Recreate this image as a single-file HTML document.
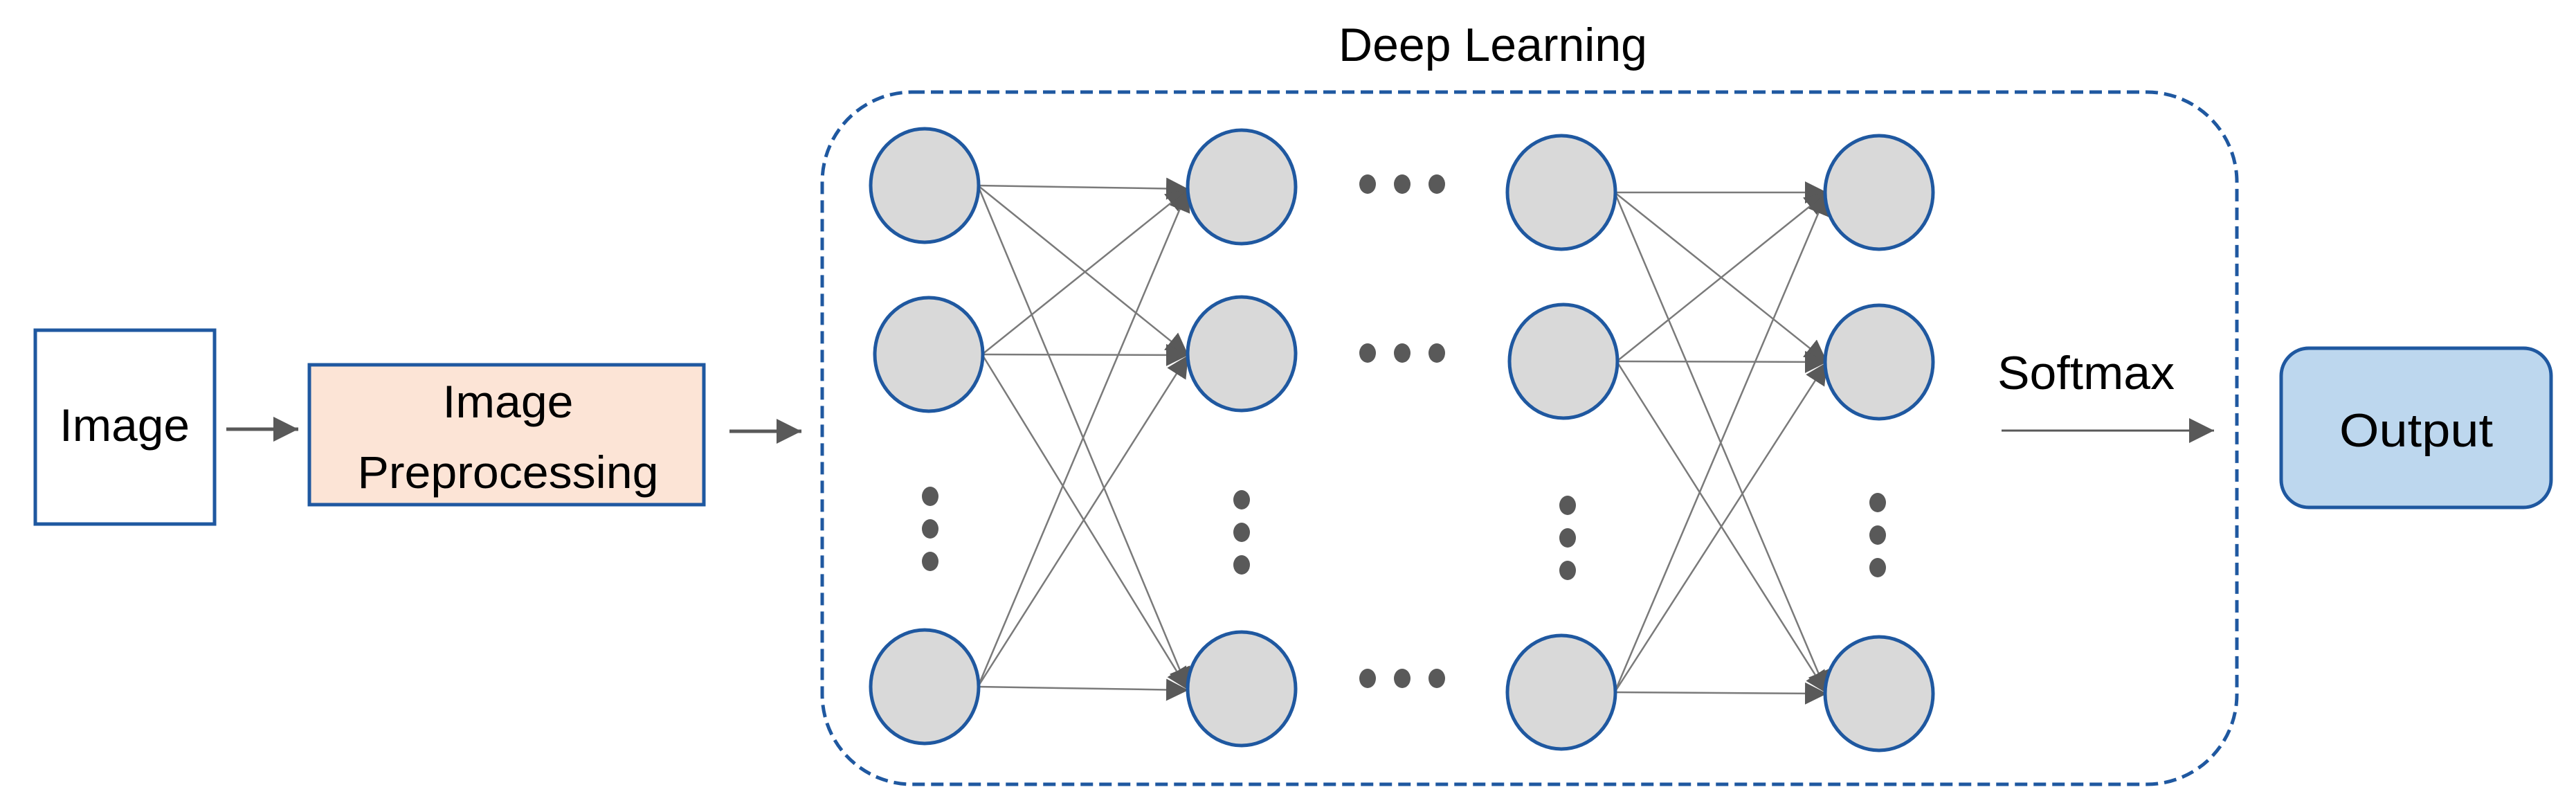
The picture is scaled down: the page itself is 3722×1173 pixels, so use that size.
<!DOCTYPE html>
<html><head><meta charset="utf-8"><style>
html,body{margin:0;padding:0;background:#fff;}
svg{display:block;}
text{font-family:"Liberation Sans",sans-serif;fill:#000;}
</style></head><body>
<svg width="3722" height="1173" viewBox="0 0 3722 1173" xmlns="http://www.w3.org/2000/svg">
<defs>
<marker id="ah" viewBox="0 0 10 10" refX="10" refY="5" markerWidth="32" markerHeight="32" markerUnits="userSpaceOnUse" orient="auto">
<path d="M0,0 L10,5 L0,10 z" fill="#595959"/></marker>
<marker id="ab" viewBox="0 0 10 10" refX="10" refY="5" markerWidth="36" markerHeight="36" markerUnits="userSpaceOnUse" orient="auto">
<path d="M0,0 L10,5 L0,10 z" fill="#595959"/></marker>
</defs>
<rect width="3722" height="1173" fill="#fff"/>
<rect x="51" y="477" width="259" height="280" fill="#fff" stroke="#1f58a0" stroke-width="5"/>
<text x="180" y="637" font-size="66" text-anchor="middle" textLength="188" lengthAdjust="spacingAndGlyphs">Image</text>
<line x1="327" y1="620" x2="431" y2="620" stroke="#595959" stroke-width="5" marker-end="url(#ab)"/>
<rect x="447" y="527" width="570" height="202" fill="#fce4d6" stroke="#1f58a0" stroke-width="5"/>
<text x="734" y="603" font-size="66" text-anchor="middle" textLength="189" lengthAdjust="spacingAndGlyphs">Image</text>
<text x="734" y="705" font-size="66" text-anchor="middle" textLength="435" lengthAdjust="spacingAndGlyphs">Preprocessing</text>
<line x1="1054" y1="623" x2="1158" y2="623" stroke="#595959" stroke-width="5" marker-end="url(#ab)"/>
<rect x="1188" y="133" width="2044" height="1000" rx="130" ry="130" fill="none" stroke="#1f58a0" stroke-width="5" stroke-dasharray="18,9"/>
<text x="2157" y="88" font-size="68" text-anchor="middle" textLength="446" lengthAdjust="spacingAndGlyphs">Deep Learning</text>
<g stroke="#7a7a7a" stroke-width="2.5" fill="none">
<line x1="1413" y1="268" x2="1717" y2="273" marker-end="url(#ah)"/>
<line x1="1413" y1="268" x2="1717" y2="513" marker-end="url(#ah)"/>
<line x1="1413" y1="268" x2="1717" y2="997" marker-end="url(#ah)"/>
<line x1="1419" y1="512" x2="1717" y2="273" marker-end="url(#ah)"/>
<line x1="1419" y1="512" x2="1717" y2="513" marker-end="url(#ah)"/>
<line x1="1419" y1="512" x2="1717" y2="997" marker-end="url(#ah)"/>
<line x1="1413" y1="992" x2="1717" y2="273" marker-end="url(#ah)"/>
<line x1="1413" y1="992" x2="1717" y2="513" marker-end="url(#ah)"/>
<line x1="1413" y1="992" x2="1717" y2="997" marker-end="url(#ah)"/>
<line x1="2333" y1="278" x2="2640" y2="278" marker-end="url(#ah)"/>
<line x1="2333" y1="278" x2="2640" y2="523" marker-end="url(#ah)"/>
<line x1="2333" y1="278" x2="2640" y2="1002" marker-end="url(#ah)"/>
<line x1="2336" y1="522" x2="2640" y2="278" marker-end="url(#ah)"/>
<line x1="2336" y1="522" x2="2640" y2="523" marker-end="url(#ah)"/>
<line x1="2336" y1="522" x2="2640" y2="1002" marker-end="url(#ah)"/>
<line x1="2333" y1="1000" x2="2640" y2="278" marker-end="url(#ah)"/>
<line x1="2333" y1="1000" x2="2640" y2="523" marker-end="url(#ah)"/>
<line x1="2333" y1="1000" x2="2640" y2="1002" marker-end="url(#ah)"/>
</g>
<g fill="#d9d9d9" stroke="#1f58a0" stroke-width="5">
<ellipse cx="1336" cy="268" rx="78" ry="82"/>
<ellipse cx="1342" cy="512" rx="78" ry="82"/>
<ellipse cx="1336" cy="992" rx="78" ry="82"/>
<ellipse cx="1794" cy="270" rx="78" ry="82"/>
<ellipse cx="1794" cy="511" rx="78" ry="82"/>
<ellipse cx="1794" cy="995" rx="78" ry="82"/>
<ellipse cx="2256" cy="278" rx="78" ry="82"/>
<ellipse cx="2259" cy="522" rx="78" ry="82"/>
<ellipse cx="2256" cy="1000" rx="78" ry="82"/>
<ellipse cx="2715" cy="278" rx="78" ry="82"/>
<ellipse cx="2715" cy="523" rx="78" ry="82"/>
<ellipse cx="2715" cy="1002" rx="78" ry="82"/>
</g>
<g fill="#595959">
<ellipse cx="1976" cy="266" rx="12" ry="14"/><ellipse cx="2026" cy="266" rx="12" ry="14"/><ellipse cx="2076" cy="266" rx="12" ry="14"/>
<ellipse cx="1976" cy="510" rx="12" ry="14"/><ellipse cx="2026" cy="510" rx="12" ry="14"/><ellipse cx="2076" cy="510" rx="12" ry="14"/>
<ellipse cx="1976" cy="980" rx="12" ry="14"/><ellipse cx="2026" cy="980" rx="12" ry="14"/><ellipse cx="2076" cy="980" rx="12" ry="14"/>
<ellipse cx="1344" cy="717" rx="12" ry="14"/><ellipse cx="1344" cy="764" rx="12" ry="14"/><ellipse cx="1344" cy="811" rx="12" ry="14"/>
<ellipse cx="1794" cy="722" rx="12" ry="14"/><ellipse cx="1794" cy="769" rx="12" ry="14"/><ellipse cx="1794" cy="816" rx="12" ry="14"/>
<ellipse cx="2265" cy="730" rx="12" ry="14"/><ellipse cx="2265" cy="777" rx="12" ry="14"/><ellipse cx="2265" cy="824" rx="12" ry="14"/>
<ellipse cx="2713" cy="726" rx="12" ry="14"/><ellipse cx="2713" cy="773" rx="12" ry="14"/><ellipse cx="2713" cy="820" rx="12" ry="14"/>
</g>
<text x="3014" y="562" font-size="68" text-anchor="middle" textLength="256" lengthAdjust="spacingAndGlyphs">Softmax</text>
<line x1="2892" y1="622" x2="3199" y2="622" stroke="#595959" stroke-width="3" marker-end="url(#ab)"/>
<rect x="3296" y="503" width="390" height="230" rx="40" ry="40" fill="#bdd7ee" stroke="#1f58a0" stroke-width="5"/>
<text x="3491" y="645" font-size="68" text-anchor="middle" textLength="222" lengthAdjust="spacingAndGlyphs">Output</text>
</svg>
</body></html>
